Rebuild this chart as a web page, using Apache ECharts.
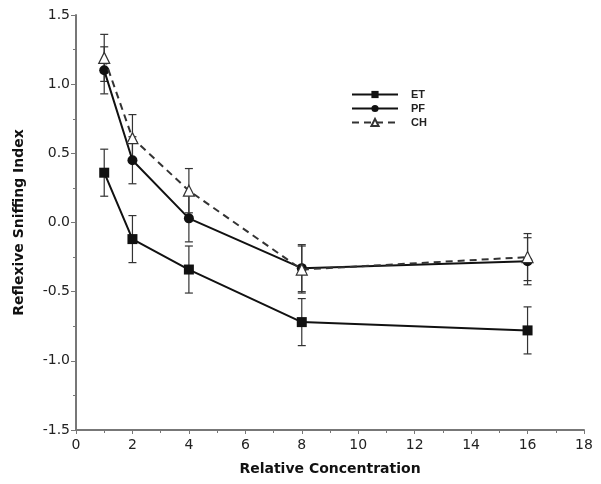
<!DOCTYPE html>
<html><head><meta charset="utf-8">
<script src="https://cdn.jsdelivr.net/npm/echarts@6/dist/echarts.min.js"></script>
<style>html,body{margin:0;padding:0;background:#fff}#c{width:601px;height:484px}</style>
</head><body><div id="c"></div>
<script>
const concentrations = [1, 2, 4, 8, 16];
const etValues = [0.36, -0.12, -0.34, -0.72, -0.78];
const pfValues = [1.10, 0.45, 0.03, -0.33, -0.28];
const chValues = [1.19, 0.61, 0.23, -0.34, -0.25];
const etErrors = [0.17, 0.17, 0.17, 0.17, 0.17];
const pfErrors = [0.17, 0.17, 0.17, 0.17, 0.17];
const chErrors = [0.17, 0.17, 0.16, 0.17, 0.17];
const seriesNames = ['ET', 'PF', 'CH'];

const chart = echarts.init(document.getElementById('c'));
const font = 'DejaVu Sans';
function pts(vals){ return concentrations.map((x,i)=>[x, vals[i]]); }
function errSeries(vals, errs){
  return {
    type:'custom', silent:true, z:1,
    data: concentrations.map((x,i)=>[x, vals[i]-errs[i], vals[i]+errs[i]]),
    renderItem(params, api){
      const lo = api.coord([api.value(0), api.value(1)]);
      const hi = api.coord([api.value(0), api.value(2)]);
      const w = 4;
      const st = {stroke:'#333', lineWidth:1.2};
      return {type:'group', children:[
        {type:'line', shape:{x1:lo[0],y1:lo[1],x2:hi[0],y2:hi[1]}, style:st},
        {type:'line', shape:{x1:lo[0]-w,y1:lo[1],x2:lo[0]+w,y2:lo[1]}, style:st},
        {type:'line', shape:{x1:hi[0]-w,y1:hi[1],x2:hi[0]+w,y2:hi[1]}, style:st}
      ]};
    }
  };
}
const option = {
  animation:false,
  backgroundColor:'#fff',
  grid:{left:76, right:17, top:15, bottom:54},
  legend:{
    data:seriesNames, orient:'vertical', left:346, top:84, itemWidth:46, itemHeight:9, itemGap:3,
    textStyle:{fontFamily:'Liberation Sans', fontSize:11, fontWeight:'bold', color:'#222', padding:[0,0,0,8]}
  },
  xAxis:{
    type:'value', min:0, max:18, interval:2,
    name:'Relative Concentration', nameLocation:'middle', nameGap:32,
    nameTextStyle:{fontFamily:font, fontSize:14, fontWeight:'bold', color:'#111'},
    axisLine:{onZero:false, lineStyle:{color:'#777', width:2}},
    axisTick:{show:true, length:4, lineStyle:{color:'#777'}},
    minorTick:{show:true, splitNumber:2, length:3, lineStyle:{color:'#777'}},
    axisLabel:{fontFamily:font, fontSize:14, color:'#222', margin:8},
    splitLine:{show:false}
  },
  yAxis:{
    type:'value', min:-1.5, max:1.5, interval:0.5,
    name:'Reflexive Sniffing Index', nameLocation:'middle', nameGap:50,
    nameTextStyle:{fontFamily:font, fontSize:14, fontWeight:'bold', color:'#111'},
    axisLine:{show:true, onZero:false, lineStyle:{color:'#777', width:2}},
    axisTick:{show:true, length:5, lineStyle:{color:'#777'}},
    minorTick:{show:true, splitNumber:2, length:3, lineStyle:{color:'#777'}},
    axisLabel:{fontFamily:font, fontSize:14, color:'#222', margin:6, formatter:v=>v.toFixed(1)},
    splitLine:{show:false}
  },
  series:[
    errSeries(etValues, etErrors),
    errSeries(pfValues, pfErrors),
    errSeries(chValues, chErrors),
    {name:'ET', type:'line', data:pts(etValues), symbol:'rect', symbolSize:10, z:3,
     lineStyle:{color:'#111', width:2}, itemStyle:{color:'#111'}},
    {name:'PF', type:'line', data:pts(pfValues), symbol:'circle', symbolSize:10, z:3,
     lineStyle:{color:'#111', width:2}, itemStyle:{color:'#111'}},
    {name:'CH', type:'line', data:pts(chValues), symbol:'triangle', symbolSize:11, z:4,
     lineStyle:{color:'#333', width:2, type:[7,5]}, itemStyle:{color:'#fff', borderColor:'#333', borderWidth:1.2}}
  ]
};
chart.setOption(option);
</script></body></html>
